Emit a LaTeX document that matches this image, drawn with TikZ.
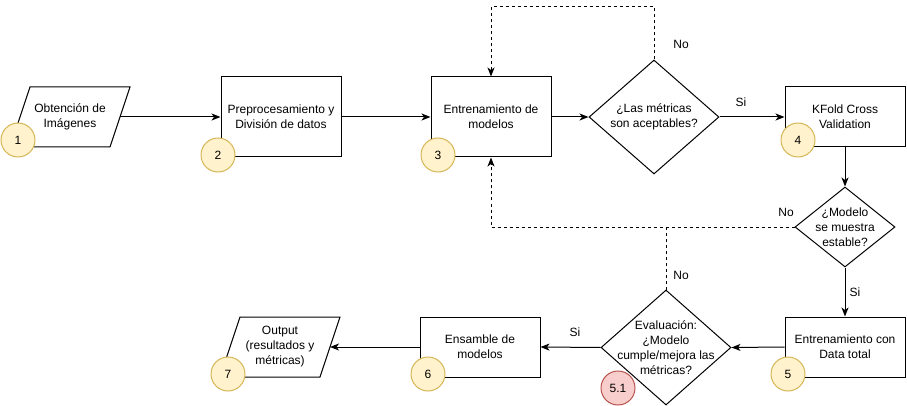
\documentclass[tikz,border=0pt]{standalone}
\usepackage{fontspec}
\setmainfont{Liberation Sans}
\usetikzlibrary{arrows.meta,shapes.geometric}
\definecolor{ylwfill}{HTML}{FFF2CC}
\definecolor{ylwdraw}{HTML}{D6B656}
\definecolor{redfill}{HTML}{F8CECC}
\definecolor{reddraw}{HTML}{B85450}
\tikzset{
  txt/.style={align=center, font=\fontsize{12}{15}\selectfont, inner sep=0pt},
  procbox/.style={draw, line width=1pt, minimum width=120pt, inner sep=0pt},
  decis/.style={draw, diamond, line width=1pt, inner sep=0pt},
  ybadge/.style={circle, draw=ylwdraw, fill=ylwfill, line width=1pt, minimum size=34pt, inner sep=0pt, font=\fontsize{12}{14}\selectfont},
  rbadge/.style={circle, draw=reddraw, fill=redfill, line width=1pt, minimum size=34pt, inner sep=0pt, font=\fontsize{12}{14}\selectfont},
  flow/.style={line width=1pt, -{Stealth[length=9pt,width=7pt,inset=2.5pt]}},
  dflow/.style={flow, dash pattern=on 3pt off 3pt},
  dline/.style={line width=1pt, dash pattern=on 3pt off 3pt},
  lbl/.style={font=\fontsize{12}{14}\selectfont, inner sep=0pt}
}
\begin{document}
\begin{tikzpicture}[x=1pt,y=-1pt]
\useasboundingbox (0,0) rectangle (907,406);
% parallelogram 1
\draw[line width=1pt] (30,87) -- (130,87) -- (110,147) -- (10,147) -- cycle;
\node[txt] (p1) at (70,117) {Obtención de\\Imágenes};
\coordinate (p1r) at (120,117);
% box 2
\node[procbox, minimum height=80pt] (b2) at (281,117) {};
\node[txt] at (b2) {Preprocesamiento y\\División de datos};
% box 3
\node[procbox, minimum height=80pt] (b3) at (491,117) {};
\node[txt] at (b3) {Entrenamiento de\\modelos};
% diamond 1
\node[decis, minimum width=130pt, minimum height=114pt] (d1) at (654,117) {};
\node[txt] at (d1) {¿Las métricas\\son aceptables?};
% box 4
\node[procbox, minimum height=60pt] (b4) at (845,117) {};
\node[txt] at (b4) {KFold Cross\\Validation};
% diamond 2
\node[decis, minimum width=100pt, minimum height=80pt] (d2) at (845,227) {};
\node[txt] at (d2) {¿Modelo\\se muestra\\estable?};
% box 5
\node[procbox, minimum height=60pt] (b5) at (845,347) {};
\node[txt] at (b5) {Entrenamiento con\\Data total};
% diamond 3
\node[decis, minimum width=130pt, minimum height=115pt] (d3) at (666,347.5) {};
\node[txt] at (d3) {Evaluación:\\¿Modelo\\cumple/mejora las\\métricas?};
% box 6
\node[procbox, minimum height=60pt] (b6) at (480,347) {};
\node[txt] at (b6) {Ensamble de\\modelos};
% parallelogram 7
\draw[line width=1pt] (240,317) -- (340,317) -- (320,377) -- (220,377) -- cycle;
\node[txt] (p7) at (280,347) {Output\\(resultados y\\métricas)};
\coordinate (p7r) at (330,347);
% connectors
\draw[flow] (p1r) -- (b2.west);
\draw[flow] (b2.east) -- (b3.west);
\draw[flow] (b3.east) -- (d1.west);
\draw[flow] (d1.east) -- (b4.west);
\node[lbl] (si1) at (741,102) {Si};
\coordinate (t1) at (654,7);
\coordinate (t2) at (491,7);
\draw[dflow] (d1.north) -- (t1) -- (t2) -- (b3.north);
\node[lbl] (no1) at (681,44) {No};
\draw[flow] (b4.south) -- (d2.north);
\coordinate (j1) at (491,227);
\coordinate (j2) at (666,227);
\draw[dflow] (d2.west) -- (j1) -- (b3.south);
\node[lbl] (no2) at (786,212) {No};
\draw[dline] (d3.north) -- (j2);
\node[lbl] (no3) at (681,275) {No};
\draw[flow] (d2.south) -- (b5.north);
\node[lbl] (si2) at (855,292) {Si};
\draw[flow] (b5.west) -- (d3.east);
\draw[flow] (d3.west) -- (b6.east);
\node[lbl] (si3) at (575,332) {Si};
\draw[flow] (b6.west) -- (p7r);
% badges
\node[ybadge] (c1) at (18,140) {1};
\node[ybadge] (c2) at (218,155) {2};
\node[ybadge] (c3) at (438,155) {3};
\node[ybadge] (c4) at (798,140) {4};
\node[ybadge] (c5) at (788,374) {5};
\node[rbadge] (c51) at (618,388) {5.1};
\node[ybadge] (c6) at (428,374) {6};
\node[ybadge] (c7) at (228,374) {7};
\end{tikzpicture}
\end{document}
